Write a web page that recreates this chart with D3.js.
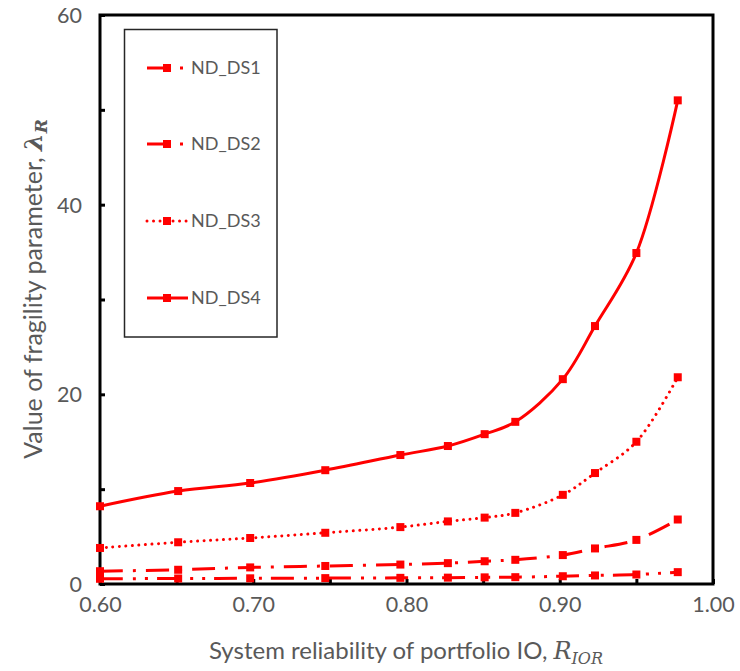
<!DOCTYPE html>
<html>
<head>
<meta charset="utf-8">
<script src="https://cdn.jsdelivr.net/npm/d3@7"></script>
<style>
  body { margin: 0; background: #fff; }
  svg { display: block; }
</style>
</head>
<body>
<svg id="chart" width="740" height="671"></svg>
<script>
// ---- data ----
const reliability = [0.600, 0.651, 0.698, 0.747, 0.796, 0.827, 0.851, 0.871, 0.902, 0.923, 0.950, 0.977];
const ndDS1 = [0.55, 0.58, 0.60, 0.62, 0.65, 0.67, 0.70, 0.72, 0.82, 0.90, 1.00, 1.25];
const ndDS2 = [1.35, 1.50, 1.75, 1.90, 2.05, 2.20, 2.40, 2.55, 3.05, 3.75, 4.65, 6.80];
const ndDS3 = [3.80, 4.40, 4.85, 5.40, 6.00, 6.60, 7.00, 7.50, 9.40, 11.70, 15.00, 21.80];
const ndDS4 = [8.20, 9.80, 10.65, 12.00, 13.60, 14.55, 15.80, 17.10, 21.60, 27.20, 34.90, 51.00];
const seriesNames = ["ND_DS1", "ND_DS2", "ND_DS3", "ND_DS4"];
const yTickValues = [0, 10, 20, 30, 40, 50, 60];
const yTickLabels = ["0", "", "20", "", "40", "", "60"];
const xTickValues = [0.60, 0.65, 0.70, 0.75, 0.80, 0.85, 0.90, 0.95, 1.00];
const xTickLabels = ["0.60", "", "0.70", "", "0.80", "", "0.90", "", "1.00"];

const seriesValues = [ndDS1, ndDS2, ndDS3, ndDS4];
const dashes = ["23 10 3 9 3 9", "23 10 3 10", "0.01 6.5", null];
const caps = ["butt", "butt", "round", "butt"];

const RED = "#FF0000";
const TXT = "#595959";
const FONT = "Lato, 'Open Sans', sans-serif";

const svg = d3.select("#chart");
const L = 100, R = 713, T = 15, B = 584;
const x = d3.scaleLinear().domain([0.6, 1.0]).range([L, R]);
const y = d3.scaleLinear().domain([0, 60]).range([B, T]);

// axes
const yAxis = svg.append("g").attr("transform", `translate(${L},0)`)
  .call(d3.axisLeft(y).tickValues(yTickValues).tickSize(-5).tickPadding(18)
        .tickFormat((d, i) => yTickLabels[i]));
const xAxis = svg.append("g").attr("transform", `translate(0,${B})`)
  .call(d3.axisBottom(x).tickValues(xTickValues).tickSize(-5).tickPadding(13)
        .tickFormat((d, i) => xTickLabels[i]));
[yAxis, xAxis].forEach(g => {
  g.select(".domain").remove();
  g.selectAll(".tick line").attr("stroke", "#000").attr("stroke-width", 3);
  g.selectAll(".tick text").attr("fill", TXT).style("font-family", FONT).style("font-size", "21.5px");
});
yAxis.selectAll(".tick text").attr("dy", "0.35em");

// frame
svg.append("rect").attr("x", L).attr("y", T).attr("width", R - L).attr("height", B - T)
  .attr("fill", "none").attr("stroke", "#000").attr("stroke-width", 3);

// lines
const line = d3.line().x(d => x(d[0])).y(d => y(d[1])).curve(d3.curveCatmullRom.alpha(0.5));
seriesValues.forEach((vals, i) => {
  const pts = reliability.map((r, j) => [r, vals[j]]);
  svg.append("path").attr("d", line(pts)).attr("fill", "none")
    .attr("stroke", RED).attr("stroke-width", 3)
    .attr("stroke-dasharray", dashes[i]).attr("stroke-linecap", caps[i]);
  svg.append("g").selectAll("rect").data(pts).join("rect")
    .attr("x", d => x(d[0]) - 4).attr("y", d => y(d[1]) - 4)
    .attr("width", 8).attr("height", 8).attr("fill", RED);
});

// legend
const lg = svg.append("g");
lg.append("rect").attr("x", 124.5).attr("y", 29.5).attr("width", 152.5).attr("height", 307.5)
  .attr("fill", "#fff").attr("stroke", "#262626").attr("stroke-width", 1.5);
const legY = [68, 144, 221, 298];
seriesNames.forEach((name, i) => {
  const yy = legY[i];
  lg.append("line").attr("x1", 147).attr("x2", 188).attr("y1", yy).attr("y2", yy)
    .attr("stroke", RED).attr("stroke-width", 3)
    .attr("stroke-dasharray", dashes[i]).attr("stroke-linecap", caps[i]);
  lg.append("rect").attr("x", 163).attr("y", yy - 4).attr("width", 8).attr("height", 8).attr("fill", RED);
  lg.append("text").attr("x", 191).attr("y", yy).attr("dy", "0.35em")
    .attr("fill", TXT).style("font-family", FONT).style("font-size", "18px").text(name);
});

// x title
const xt = svg.append("text").attr("x", 406).attr("y", 659).attr("text-anchor", "middle")
  .attr("fill", TXT).style("font-family", FONT).style("font-size", "24px");
xt.append("tspan").text("System reliability of portfolio IO, ");
xt.append("tspan").style("font-family", "'DejaVu Serif', serif").style("font-style", "italic").text("R");
xt.append("tspan").attr("dy", 5).style("font-family", "'DejaVu Serif', serif").style("font-style", "italic")
  .style("font-size", "16px").text("IOR");

// y title
const yt = svg.append("text").attr("transform", "translate(42,289) rotate(-90)").attr("text-anchor", "middle")
  .attr("fill", TXT).style("font-family", FONT).style("font-size", "25px");
yt.append("tspan").text("Value of fragility parameter, ");
yt.append("tspan").style("font-family", "'DejaVu Serif', serif").style("font-style", "italic")
  .style("font-weight", "bold").text("λ");
yt.append("tspan").attr("dy", 5).style("font-family", "'DejaVu Serif', serif").style("font-style", "italic")
  .style("font-weight", "bold").style("font-size", "17px").text("R");
</script>
</body>
</html>
